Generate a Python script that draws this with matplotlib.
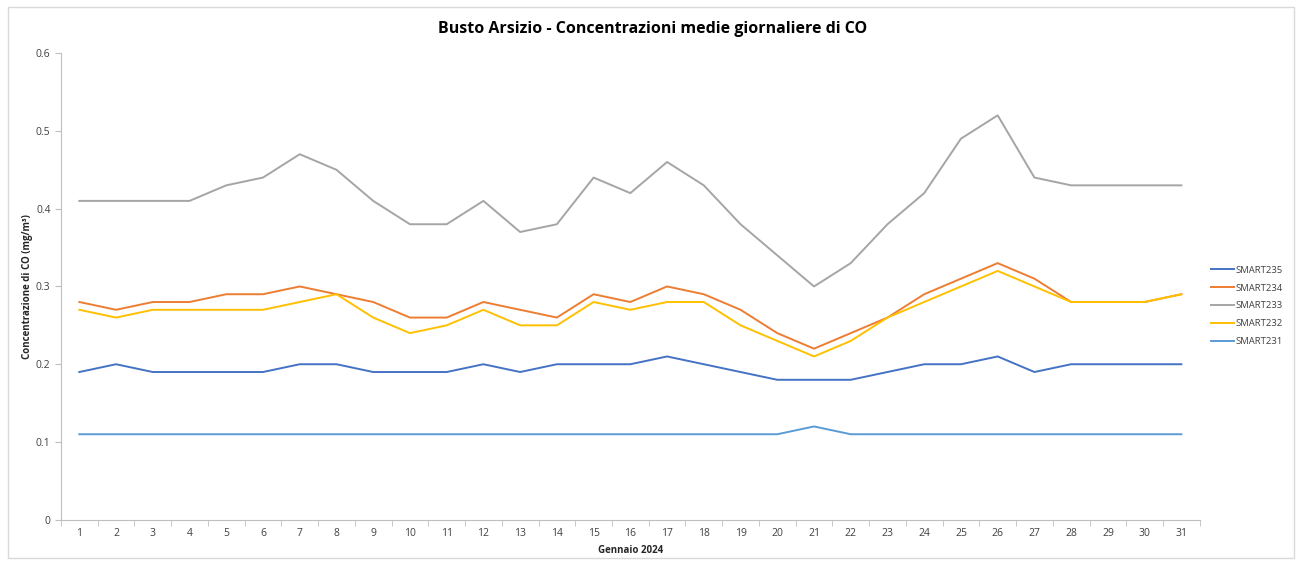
import matplotlib
matplotlib.use("Agg")
import matplotlib.pyplot as plt
import numpy as np

days = list(range(1, 32))
series_names = ["SMART235", "SMART234", "SMART233", "SMART232", "SMART231"]
smart235 = [0.19, 0.20, 0.19, 0.19, 0.19, 0.19, 0.20, 0.20, 0.19, 0.19, 0.19, 0.20, 0.19, 0.20, 0.20, 0.20,
            0.21, 0.20, 0.19, 0.18, 0.18, 0.18, 0.19, 0.20, 0.20, 0.21, 0.19, 0.20, 0.20, 0.20, 0.20]
smart234 = [0.28, 0.27, 0.28, 0.28, 0.29, 0.29, 0.30, 0.29, 0.28, 0.26, 0.26, 0.28, 0.27, 0.26, 0.29, 0.28,
            0.30, 0.29, 0.27, 0.24, 0.22, 0.24, 0.26, 0.29, 0.31, 0.33, 0.31, 0.28, 0.28, 0.28, 0.29]
smart233 = [0.41, 0.41, 0.41, 0.41, 0.43, 0.44, 0.47, 0.45, 0.41, 0.38, 0.38, 0.41, 0.37, 0.38, 0.44, 0.42,
            0.46, 0.43, 0.38, 0.34, 0.30, 0.33, 0.38, 0.42, 0.49, 0.52, 0.44, 0.43, 0.43, 0.43, 0.43]
smart232 = [0.27, 0.26, 0.27, 0.27, 0.27, 0.27, 0.28, 0.29, 0.26, 0.24, 0.25, 0.27, 0.25, 0.25, 0.28, 0.27,
            0.28, 0.28, 0.25, 0.23, 0.21, 0.23, 0.26, 0.28, 0.30, 0.32, 0.30, 0.28, 0.28, 0.28, 0.29]
smart231 = [0.11] * 20 + [0.12] + [0.11] * 10
y_ticks = [0, 0.1, 0.2, 0.3, 0.4, 0.5, 0.6]
y_tick_labels = ["0", "0.1", "0.2", "0.3", "0.4", "0.5", "0.6"]

colors = ["#4472C4", "#ED7D31", "#A5A5A5", "#FFC000", "#5B9BD5"]
plt.rcParams["font.family"] = ["Open Sans", "DejaVu Sans"]

fig = plt.figure(figsize=(12.97, 5.65), dpi=100)
ax = fig.add_axes([0.047, 0.080, 0.878, 0.826])

for name, vals, col in zip(series_names, [smart235, smart234, smart233, smart232, smart231], colors):
    ax.plot(days, vals, color=col, lw=1.4, label=name)

ax.set_xlim(0.5, 31.5)
ax.set_ylim(0, 0.6)
ax.set_yticks(y_ticks)
ax.set_yticklabels(y_tick_labels)
ax.set_xticks(days)
ax.set_xticks(np.arange(0.5, 32, 1), minor=True)
ax.tick_params(axis="x", which="major", length=0, labelsize=7.5, colors="#404040", pad=6)
ax.tick_params(axis="x", which="minor", length=4, color="#BFBFBF")
ax.tick_params(axis="y", length=4, color="#BFBFBF", labelsize=7.5, labelcolor="#404040")
for s in ["top", "right"]:
    ax.spines[s].set_visible(False)
for s in ["left", "bottom"]:
    ax.spines[s].set_color("#BFBFBF")

ax.set_xlabel("Gennaio 2024", fontsize=7, fontweight="bold", color="#262626", labelpad=4)
ax.set_ylabel("Concentrazione di CO (mg/m³)", fontsize=7, fontweight="bold", color="#262626", labelpad=2)
fig.suptitle("Busto Arsizio - Concentrazioni medie giornaliere di CO", x=0.503, y=0.962,
             fontsize=11.5, fontweight="bold", color="#000000")

fig.legend(loc="center left", bbox_to_anchor=(1211 / 1297, 1 - 306 / 565), frameon=False, fontsize=6.8,
           handlelength=2.4, handletextpad=0.15, labelspacing=0.95, labelcolor="#404040",
           borderaxespad=0, borderpad=0)

border = plt.Rectangle((0.006, 0.012), 0.992, 0.975, transform=fig.transFigure,
                       fill=False, edgecolor="#D9D9D9", lw=1)
fig.patches.append(border)

fig.savefig("out.png", dpi=100)
